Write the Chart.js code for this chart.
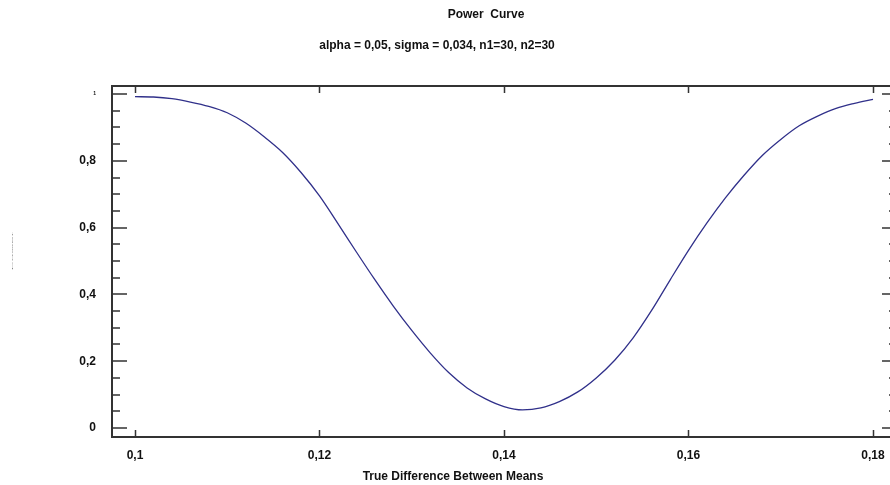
<!DOCTYPE html>
<html>
<head>
<meta charset="utf-8">
<script src="https://cdn.jsdelivr.net/npm/chart.js@4"></script>
<style>
  body { margin: 0; background: #fff; overflow: hidden; }
  canvas { display: block; }
</style>
</head>
<body>
<canvas id="powerChart" width="905" height="485"></canvas>
<script>
// true difference between means
const differences = [
  0.100, 0.102, 0.104, 0.106, 0.108, 0.110, 0.112, 0.114, 0.116, 0.118,
  0.120, 0.122, 0.124, 0.126, 0.128, 0.130, 0.132, 0.134, 0.136, 0.138,
  0.140, 0.142, 0.144, 0.146, 0.148, 0.150, 0.152, 0.154, 0.156, 0.158,
  0.160, 0.162, 0.164, 0.166, 0.168, 0.170, 0.172, 0.174, 0.176, 0.178,
  0.180
];
// power
const power = [
  0.992, 0.991, 0.986, 0.976, 0.963, 0.944, 0.913, 0.872, 0.825, 0.765,
  0.695, 0.612, 0.527, 0.444, 0.365, 0.292, 0.225, 0.166, 0.120, 0.087,
  0.064, 0.054, 0.060, 0.079, 0.108, 0.150, 0.203, 0.270, 0.352, 0.443,
  0.532, 0.614, 0.689, 0.756, 0.816, 0.864, 0.905, 0.934, 0.957, 0.972,
  0.984
];
const xTicks = [0.10, 0.12, 0.14, 0.16, 0.18];
const yMajor = [0, 0.2, 0.4, 0.6, 0.8, 1];
const yMinor = [0.05, 0.1, 0.15, 0.25, 0.3, 0.35, 0.45, 0.5, 0.55, 0.65, 0.7, 0.75, 0.85, 0.9, 0.95];

const titleText = 'Power  Curve';
const subtitleText = 'alpha = 0,05, sigma = 0,034, n1=30, n2=30';
const xTitle = 'True Difference Between Means';
const yTitle = 'Power';

const FONT = '"Liberation Sans", Arial, sans-serif';

function commaNum(v) {
  return String(+v.toFixed(3)).replace('.', ',');
}

// frame, inward ticks, x labels and the text blocks
const framePlugin = {
  id: 'frame',
  afterDraw(chart) {
    const ctx = chart.ctx;
    const a = chart.chartArea;
    const xs = chart.scales.x;
    const ys = chart.scales.y;
    ctx.save();
    ctx.strokeStyle = '#333';
    ctx.lineWidth = 2;
    ctx.strokeRect(a.left, a.top, a.right - a.left, a.bottom - a.top);

    ctx.lineWidth = 1.5;
    ctx.beginPath();
    xTicks.forEach(v => {
      const px = Math.round(xs.getPixelForValue(v)) + 0.5;
      ctx.moveTo(px, a.top); ctx.lineTo(px, a.top + 7);
      ctx.moveTo(px, a.bottom); ctx.lineTo(px, a.bottom - 7);
    });
    yMajor.forEach(v => {
      const py = Math.round(ys.getPixelForValue(v));
      ctx.moveTo(a.left, py); ctx.lineTo(a.left + 15, py);
      ctx.moveTo(a.right, py); ctx.lineTo(a.right - 15, py);
    });
    yMinor.forEach(v => {
      const py = Math.round(ys.getPixelForValue(v));
      ctx.moveTo(a.left, py); ctx.lineTo(a.left + 8, py);
      ctx.moveTo(a.right, py); ctx.lineTo(a.right - 8, py);
    });
    ctx.stroke();

    ctx.fillStyle = '#111';
    ctx.textAlign = 'center';
    ctx.textBaseline = 'middle';
    ctx.font = 'bold 12px ' + FONT;
    xTicks.forEach(v => {
      ctx.fillText(commaNum(v), xs.getPixelForValue(v), a.bottom + 19);
    });
    ctx.fillText(titleText, 486, 15);
    ctx.fillText(subtitleText, 437, 46);
    ctx.fillText(xTitle, 453, 477);

    // tiny, squeezed y title
    ctx.translate(12, 251);
    ctx.rotate(-Math.PI / 2);
    ctx.scale(2.7, 0.5);
    ctx.fillStyle = '#888';
    ctx.font = '5px ' + FONT;
    ctx.fillText(yTitle, 0, 0);
    ctx.restore();
  }
};

const ctx = document.getElementById('powerChart').getContext('2d');
const powerChart = new Chart(ctx, {
  type: 'line',
  data: {
    datasets: [{
      label: 'Power',
      data: differences.map((d, i) => ({ x: d, y: power[i] })),
      borderColor: '#30308a',
      borderWidth: 1.3,
      pointRadius: 0,
      fill: false,
      cubicInterpolationMode: 'monotone'
    }]
  },
  options: {
    responsive: false,
    animation: false,
    layout: { padding: { top: 86, right: 8, left: 0, bottom: 0 } },
    plugins: {
      legend: { display: false },
      tooltip: { enabled: false }
    },
    scales: {
      x: {
        type: 'linear',
        min: 0.097507,
        max: 0.182602,
        border: { display: false },
        grid: { display: false, drawTicks: false },
        ticks: { display: false },
        afterFit: s => { s.height = 48; }
      },
      y: {
        min: -0.027,
        max: 1.024,
        border: { display: false },
        grid: { display: false, drawTicks: false },
        afterBuildTicks: s => { s.ticks = yMajor.map(v => ({ value: v })); },
        ticks: {
          autoSkip: false,
          padding: 16,
          color: '#111',
          font: c => ({ family: FONT, weight: 'bold', size: c.tick && c.tick.value === 1 ? 5 : 12 }),
          callback: v => commaNum(v)
        },
        afterFit: s => { s.width = 112; }
      }
    }
  },
  plugins: [framePlugin]
});
</script>
</body>
</html>
